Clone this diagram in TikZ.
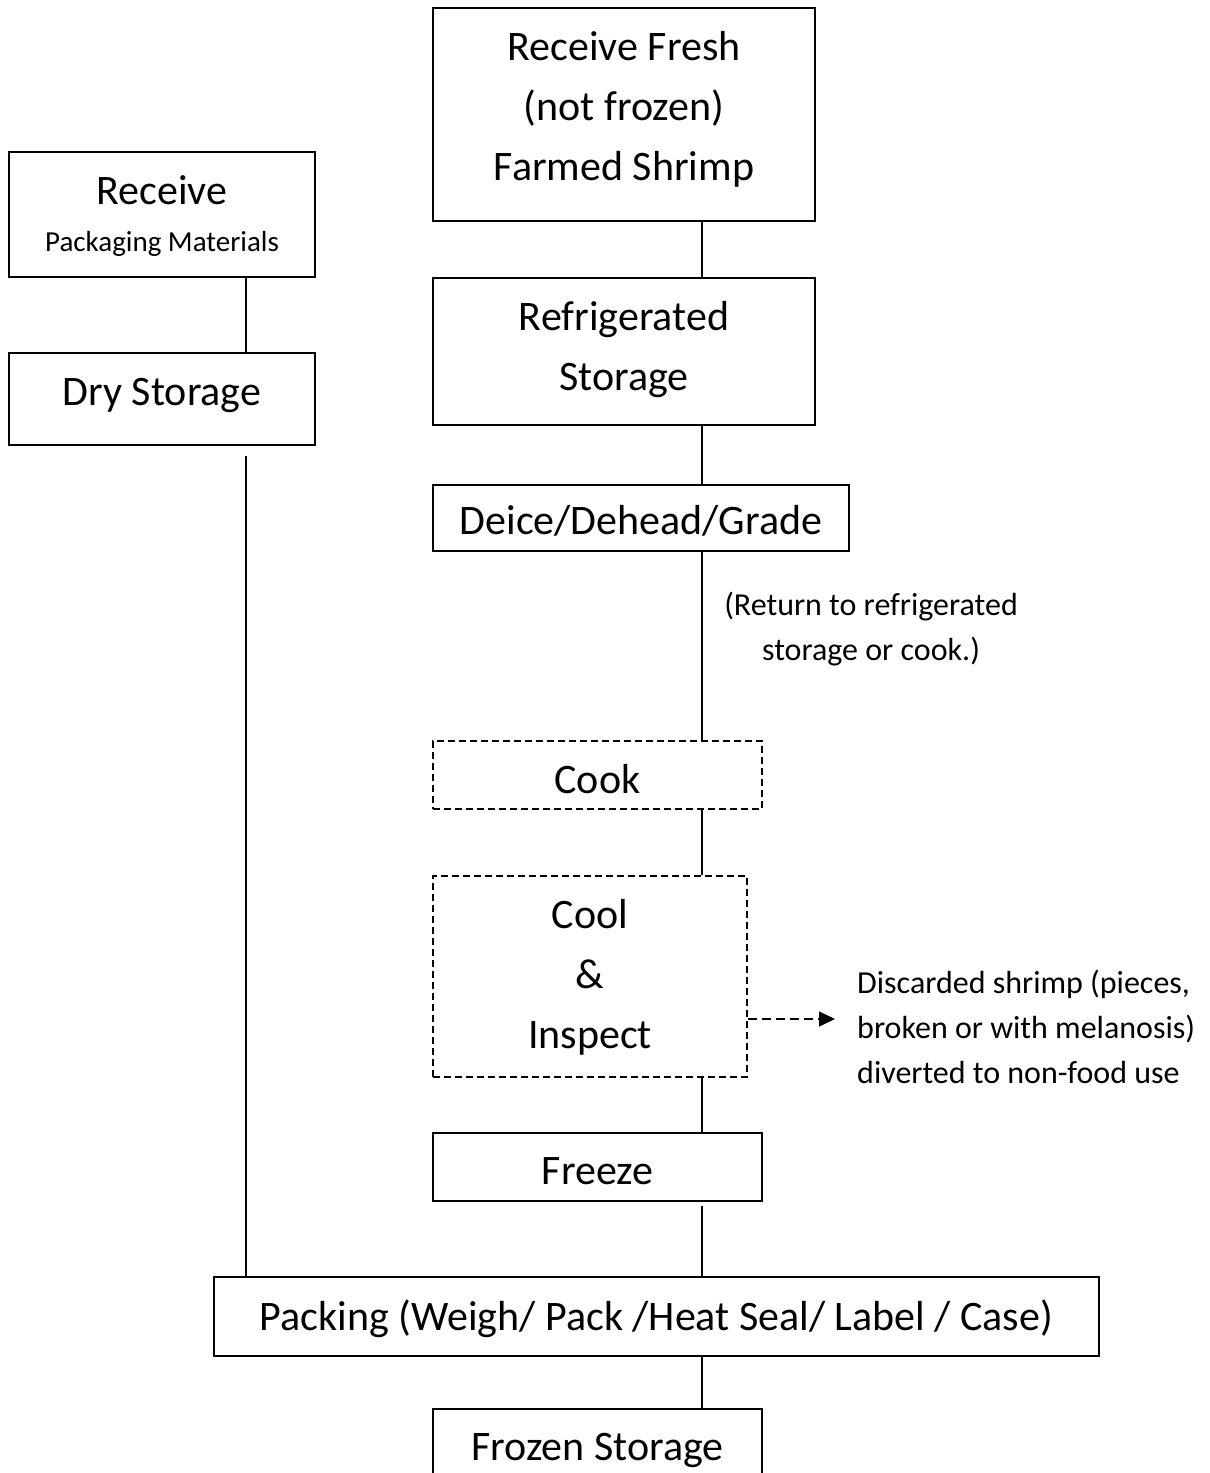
\documentclass[tikz,border=0pt]{standalone}
\usepackage{fontspec}
\setmainfont{Carlito}
\usetikzlibrary{arrows.meta}
\begin{document}
\begin{tikzpicture}[x=1pt,y=-1pt,
  box/.style={draw,line width=1.4pt,inner sep=0pt,anchor=center},
  dbox/.style={box,dash pattern=on 7pt off 4pt},
  txt/.style={inner sep=0pt,align=center,anchor=center},
  big/.style={txt,font=\fontsize{42}{60}\selectfont},
  small/.style={txt,font=\fontsize{29}{35}\selectfont},
  note/.style={inner sep=0pt,font=\fontsize{32}{45}\selectfont},
  conn/.style={line width=1.4pt}]
\clip (0,0) rectangle (1210,1473);
\fill[white] (0,0) rectangle (1210,1473);
% boxes
\node[box,minimum width=382pt,minimum height=213pt] (fresh) at (624,114.5) {};
\node[big] (freshT) at (624,109.5) {Receive Fresh\\(not frozen)\\Farmed Shrimp};
\node[box,minimum width=306pt,minimum height=125pt] (rpk) at (162,214.5) {};
\node[big] (rpkA) at (162,190) {Receive};
\node[small] (rpkB) at (162,244) {Packaging Materials};
\node[box,minimum width=306pt,minimum height=92pt] (dry) at (162,399) {};
\node[big] (dryT) at (162,395) {Dry Storage};
\node[box,minimum width=382pt,minimum height=147pt] (refr) at (624,351.5) {};
\node[big] (refrT) at (624,349.5) {Refrigerated\\Storage};
\node[box,minimum width=416pt,minimum height=66pt] (deice) at (641,518) {};
\node[big] (deiceT) at (641,521) {Deice/Dehead/Grade};
\node[dbox,minimum width=329pt,minimum height=68pt] (cook) at (597.5,775) {};
\node[big] (cookT) at (597.5,779) {Cook};
\node[dbox,minimum width=314pt,minimum height=201pt] (cool) at (590,976.5) {};
\node[big] (coolT) at (590,977.5) {Cool\\\&\\Inspect};
\node[box,minimum width=329pt,minimum height=68pt] (freeze) at (597.5,1167) {};
\node[big] (freezeT) at (597.5,1171) {Freeze};
\node[box,minimum width=885pt,minimum height=79pt] (pack) at (656.5,1316.5) {};
\node[big] (packT) at (656.5,1318.5) {Packing (Weigh/ Pack /Heat Seal/ Label / Case)};
\node[box,minimum width=329pt,minimum height=68pt] (frozen) at (597.5,1443) {};
\node[big] (frozenT) at (597.5,1450) {Frozen Storage};
% notes
\node[note,align=center] (ret) at (871,629.5) {(Return to refrigerated\\storage or cook.)};
\node[note,align=left,anchor=west] (disc) at (857,1027) {Discarded shrimp (pieces,\\broken or with melanosis)\\diverted to non-food use};
% connectors
\coordinate (sp) at (702,0);
\coordinate (lf) at (246,0);
\draw[conn] (fresh.south -| sp) -- (refr.north -| sp);
\draw[conn] (refr.south -| sp) -- (deice.north -| sp);
\draw[conn] (deice.south -| sp) -- (cook.north -| sp);
\draw[conn] (cook.south -| sp) -- (cool.north -| sp);
\draw[conn] (cool.south -| sp) -- (freeze.north -| sp);
\draw[conn,shorten <=4pt] (freeze.south -| sp) -- (pack.north -| sp);
\draw[conn] (pack.south -| sp) -- (frozen.north -| sp);
\draw[conn] (rpk.south -| lf) -- (dry.north -| lf);
\draw[conn,shorten <=10pt] (dry.south -| lf) -- (pack.north -| lf);
\coordinate (arrEnd) at (835,1019);
\draw[conn,dash pattern=on 9pt off 5pt,-{Triangle[length=16pt,width=15pt]}] (cool.east |- arrEnd) -- (arrEnd);
\end{tikzpicture}
\end{document}
